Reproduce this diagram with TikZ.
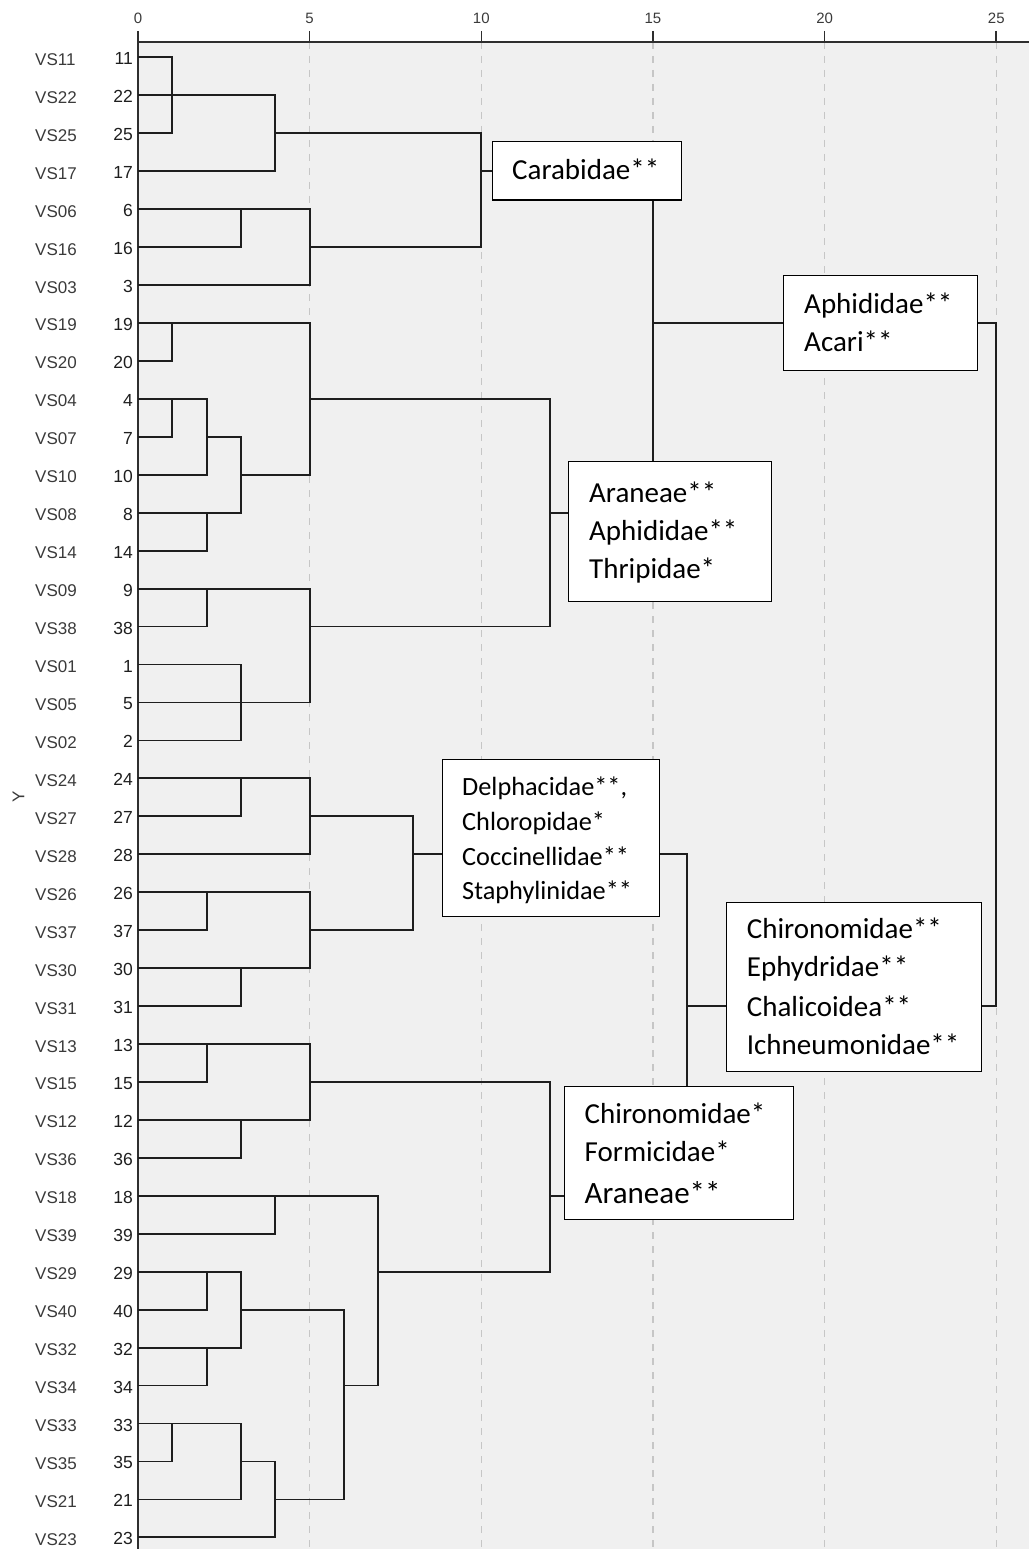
\documentclass[tikz,border=0pt]{standalone}
\usepackage{fontspec}
\newfontfamily\boxfont{Carlito}
\newfontfamily\axisfont{Liberation Sans}
\definecolor{plotbg}{HTML}{F0F0F0}
\definecolor{gridc}{HTML}{C6C6C6}
\definecolor{inkc}{HTML}{1E1E1E}
\definecolor{labc}{HTML}{3A3A3A}
\tikzset{
  link/.style={draw=inkc, line width=1.8pt, line join=miter},
  axisline/.style={draw=labc!80!black, line width=2pt},
  gridline/.style={draw=gridc, line width=1.2pt, dash pattern=on 7pt off 7pt},
  famlist/.style={draw=black, line width=1.3pt, fill=white, inner sep=0pt},
  famtext/.style={anchor=base west, inner sep=0pt, font=\boxfont\fontsize{29}{35}\selectfont},
  smalltext/.style={anchor=base west, inner sep=0pt, font=\boxfont\fontsize{26.3}{32}\selectfont},
  leafname/.style={anchor=base west, inner sep=0pt, text=labc, font=\axisfont\fontsize{17}{20}\selectfont},
  leafnum/.style={anchor=base east, inner sep=0pt, text=inkc, font=\axisfont\fontsize{17.5}{20}\selectfont},
  ticklabel/.style={anchor=base, inner sep=0pt, text=labc, font=\axisfont\fontsize{15}{18}\selectfont}
}
\begin{document}
\begin{tikzpicture}[x=1pt,y=-1pt]
\useasboundingbox (0,0) rectangle (1029,1549);
% plot area
\fill[plotbg] (138,42) rectangle (1029,1549);
\foreach \u in {5,10,15,20,25}
  \draw[gridline] ({138+34.33*\u},42) -- ({138+34.33*\u},1549);
% axes
\draw[axisline] (138,1549) -- (138,42) -- (1029,42);
\foreach \u in {0,5,10,15,20,25} {
  \draw[axisline, line width=1.6pt] ({138+34.33*\u},31) -- ({138+34.33*\u},42);
  \node[ticklabel] (tick\u) at ({138+34.33*\u},24) {\u};
}
\node[rotate=90, inner sep=0pt, text=labc, font=\axisfont\fontsize{17}{20}\selectfont] (ylab) at (18.5,797) {Y};
% leaf labels
\foreach \r/\vs/\n in {1/11/11, 2/22/22, 3/25/25, 4/17/17, 5/06/6, 6/16/16, 7/03/3,
  8/19/19, 9/20/20, 10/04/4, 11/07/7, 12/10/10, 13/08/8, 14/14/14, 15/09/9, 16/38/38,
  17/01/1, 18/05/5, 19/02/2, 20/24/24, 21/27/27, 22/28/28, 23/26/26, 24/37/37, 25/30/30,
  26/31/31, 27/13/13, 28/15/15, 29/12/12, 30/36/36, 31/18/18, 32/39/39, 33/29/29,
  34/40/40, 35/32/32, 36/34/34, 37/33/33, 38/35/35, 39/21/21, 40/23/23} {
  \pgfmathsetmacro\yy{19.35+37.95*\r}
  \node[leafname] (vs\r) at (35,\yy+8) {VS\vs};
  \node[leafnum] (num\r) at (133,\yy+7.5) {\n};
}
% dendrogram: x in rescaled distance, y in leaf rows
\begin{scope}[shift={(138,19.35)}, x=34.33pt, y=-37.95pt]
  % first group
  \draw[link] (0,1) -- (1,1) -- (1,3) -- (0,3);
  \draw[link] (0,2) -- (4,2) -- (4,4) -- (0,4);
  \draw[link] (4,3) -- (10,3) -- (10,6) -- (5,6);
  \draw[link] (0,6) -- (3,6) -- (3,5);
  \draw[link] (0,5) -- (5,5) -- (5,7) -- (0,7);
  \coordinate (ga) at (10,4);
  % second group
  \draw[link] (0,8) -- (5,8) -- (5,12) -- (3,12);
  \draw[link] (0,9) -- (1,9) -- (1,8);
  \draw[link] (0,10) -- (2,10) -- (2,12) -- (0,12);
  \draw[link] (0,11) -- (1,11) -- (1,10);
  \draw[link] (2,11) -- (3,11) -- (3,13) -- (0,13);
  \draw[link] (2,13) -- (2,14) -- (0,14);
  \draw[link] (5,10) -- (12,10) -- (12,16) -- (5,16);
  \draw[link] (0,15) -- (5,15) -- (5,18) -- (0,18);
  \draw[link] (0,16) -- (2,16) -- (2,15);
  \draw[link] (0,17) -- (3,17) -- (3,19) -- (0,19);
  \coordinate (gb) at (12,13);
  % third group
  \draw[link] (0,20) -- (5,20) -- (5,22) -- (0,22);
  \draw[link] (0,21) -- (3,21) -- (3,20);
  \draw[link] (5,21) -- (8,21) -- (8,24) -- (5,24);
  \draw[link] (0,23) -- (5,23) -- (5,25) -- (0,25);
  \draw[link] (0,24) -- (2,24) -- (2,23);
  \draw[link] (0,26) -- (3,26) -- (3,25);
  \coordinate (gc) at (8,22);
  % fourth group
  \draw[link] (0,27) -- (5,27) -- (5,29) -- (0,29);
  \draw[link] (0,28) -- (2,28) -- (2,27);
  \draw[link] (0,30) -- (3,30) -- (3,29);
  \draw[link] (5,28) -- (12,28) -- (12,33) -- (7,33);
  \draw[link] (0,31) -- (7,31) -- (7,36) -- (6,36);
  \draw[link] (0,32) -- (4,32) -- (4,31);
  \draw[link] (0,33) -- (3,33) -- (3,35) -- (0,35);
  \draw[link] (0,34) -- (2,34) -- (2,33);
  \draw[link] (0,36) -- (2,36) -- (2,35);
  \draw[link] (3,34) -- (6,34) -- (6,39) -- (4,39);
  \draw[link] (0,37) -- (3,37) -- (3,39) -- (0,39);
  \draw[link] (0,38) -- (1,38) -- (1,37);
  \draw[link] (3,38) -- (4,38) -- (4,40) -- (0,40);
  \coordinate (gd) at (12,31);
  % upper joins
  \coordinate (j15) at (15,8);
  \coordinate (j25a) at (25,8);
  \coordinate (j25b) at (25,26);
  \coordinate (j16a) at (16,22);
  \coordinate (j16b) at (16,26);
\end{scope}
% family boxes
\node[famlist, minimum width=189.3pt, minimum height=58.6pt, anchor=north west] (carab) at (491.7,140.7) {};
\node[famlist, minimum width=194pt, minimum height=95pt, anchor=north west] (aphid) at (783,275) {};
\node[famlist, minimum width=203pt, minimum height=139.7pt, anchor=north west] (aran) at (568,461) {};
\node[famlist, minimum width=217.3pt, minimum height=157pt, anchor=north west] (delph) at (441.7,759) {};
\node[famlist, minimum width=255.3pt, minimum height=169pt, anchor=north west] (chiroB) at (725.7,901.7) {};
\node[famlist, minimum width=229.3pt, minimum height=133.3pt, anchor=north west] (chiroA) at (563.7,1085.7) {};
% connectors between clusters and boxes
\draw[link] (ga) -- (ga -| carab.west);
\draw[link] (carab.south -| j15) -- (aran.north -| j15);
\draw[link] (j15) -- (j15 -| aphid.west);
\draw[link] (j25a -| aphid.east) -- (j25a) -- (j25b) -- (j25b -| chiroB.east);
\draw[link] (gb) -- (gb -| aran.west);
\draw[link] (gc) -- (gc -| delph.west);
\draw[link] (j16a -| delph.east) -- (j16a) -- (chiroA.north -| j16a);
\draw[link] (j16b) -- (j16b -| chiroB.west);
\draw[link] (gd) -- (gd -| chiroA.west);
% box texts
\node[famtext] (t1) at (512,179.3) {Carabidae**};
\node[famtext] (t2) at (804,313) {Aphididae**};
\node[famtext] (t3) at (804,351.7) {Acari**};
\node[famtext] (t4) at (589,502.7) {Araneae**};
\node[famtext] (t5) at (589,540.7) {Aphididae**};
\node[famtext] (t6) at (589,578.5) {Thripidae*};
\node[smalltext] (t7) at (462,795.7) {Delphacidae**,};
\node[smalltext] (t8) at (462,830) {Chloropidae*};
\node[smalltext] (t9) at (462,865) {Coccinellidae**};
\node[smalltext] (t10) at (462,899.3) {Staphylinidae**};
\node[famtext] (t11) at (746.7,938) {Chironomidae**};
\node[famtext] (t12) at (746.7,976.5) {Ephydridae**};
\node[famtext] (t13) at (746.7,1016) {Chalicoidea**};
\node[famtext] (t14) at (746.7,1054) {Ichneumonidae**};
\node[famtext] (t15) at (584.5,1123) {Chironomidae*};
\node[famtext] (t16) at (584.5,1161.7) {Formicidae*};
\node[famtext, font=\boxfont\fontsize{31}{37}\selectfont] (t17) at (584.5,1203) {Araneae**};
\end{tikzpicture}
\end{document}
